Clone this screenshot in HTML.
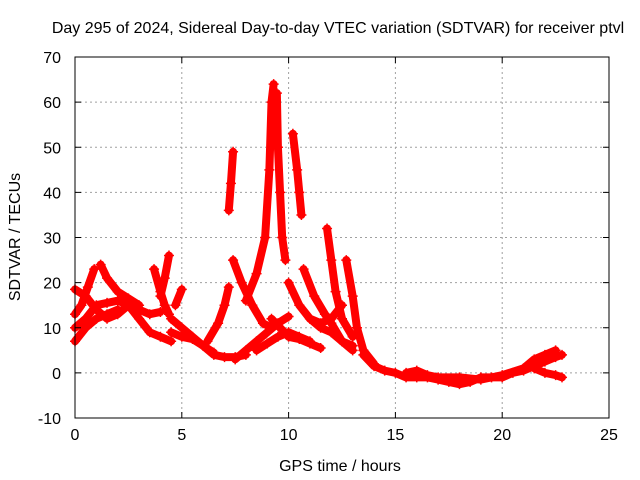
<!DOCTYPE html>
<html><head><meta charset="utf-8"><style>
body{margin:0;background:#fff;}
svg{display:block;font-family:"Liberation Sans",sans-serif;}
</style></head><body>
<svg id="chart" width="640" height="480">
<text x="338" y="33" text-anchor="middle" font-size="16">Day 295 of 2024, Sidereal Day-to-day VTEC variation (SDTVAR) for receiver ptvl</text>
<text transform="translate(20,237) rotate(-90)" text-anchor="middle" font-size="16">SDTVAR / TECUs</text>
<text x="340" y="471" text-anchor="middle" font-size="16">GPS time / hours</text>
<g id="grid"></g><g id="marks"></g><g id="axes"></g>
</svg>
<script>
const xTicks=[0,5,10,15,20,25];
const yTicks=[-10,0,10,20,30,40,50,60,70];
const arcA=[[0,18.5],[0.5,17],[1,14],[1.5,12],[2,13],[2.5,15],[3,14],[3.5,13],[4,13.5]];
const arcB=[[0,10],[0.5,12],[1,15],[1.5,15.5],[2,16],[2.5,15],[3,12],[3.5,9],[4,8],[4.5,7]];
const arcC=[[0,13],[0.3,15],[0.6,19],[0.9,23]];
const arcD=[[0,7],[0.5,10],[1,12],[1.5,13],[2,14]];
const arcE=[[1.2,24],[1.5,21],[2,18],[2.5,16.5],[3,15]];
const arcF=[[3.7,23],[4,18],[4.2,15],[4.4,13]];
const arcG=[[4,17],[4.2,21],[4.4,26]];
const arcH=[[4.7,15],[5,18.5]];
const arcI=[[4.5,12],[5,10],[5.5,8],[6,6],[6.5,4],[7,3.5],[7.5,3.5],[8,4]];
const arcJ=[[4.5,9],[5,8],[5.5,7.5],[6,6],[6.5,4.5]];
const arcK=[[6.2,7],[6.7,11],[7,15],[7.2,19]];
const arcL=[[7.4,25],[7.8,20],[8.3,15],[8.8,11],[9.2,10]];
const arcM=[[7.5,3],[8,5],[8.5,7],[9,9],[9.5,11],[10,12.5]];
const arcN=[[8,16],[8.5,22],[8.9,30],[9.1,45],[9.2,60],[9.3,64]];
const arcO=[[9.45,62],[9.5,50],[9.6,40],[9.7,30],[9.85,25]];
const arcP=[[9.2,12],[9.6,10],[10,8],[10.5,7.5],[11,6.5],[11.5,5.5]];
const arcQ=[[8.5,5],[9,6.5],[9.5,8],[10,9],[10.5,8],[11,7]];
const arcR=[[10.2,53],[10.4,45],[10.5,40],[10.6,35]];
const arcS=[[7.2,36],[7.3,42],[7.4,49]];
const arcT=[[10,20],[10.5,15],[11,12],[11.5,11],[12,12],[12.5,15]];
const arcU=[[10.7,23],[11.2,17],[11.7,13],[12,11],[12.5,7],[13,5]];
const arcV=[[11.8,32],[12,25],[12.2,18],[12.5,12],[13,8]];
const arcW=[[12.7,25],[13,17],[13.2,10],[13.5,5],[14,2]];
const arcX=[[11,12],[11.5,10],[12,9],[12.5,7],[13,6]];
const arcY=[[13.5,4],[14,1.5],[14.5,0.5],[15,0],[15.5,-1],[16,-1],[16.5,-1],[17,-1.5],[17.5,-2],[18,-2.5],[18.5,-2],[19,-1],[19.5,-1],[20,-1],[20.5,0],[21,0.5],[21.5,1.5],[22,2.5],[22.5,3.5],[22.8,4]];
const arcZ=[[15.5,0],[16,0.5],[16.5,-0.5],[17,-1],[18,-1],[19,-1.5],[20,-0.5],[21,1],[21.5,3],[22,4],[22.5,5]];
const arcZ2=[[21.5,1],[22,0],[22.5,-0.5],[22.8,-1]];
const arcs=[arcA,arcB,arcC,arcD,arcE,arcF,arcG,arcH,arcI,arcJ,arcK,arcL,arcM,arcN,arcO,arcP,arcQ,arcR,arcS,arcT,arcU,arcV,arcW,arcX,arcY,arcZ,arcZ2];
const X0=75,X1=609,Y0=418,Y1=57;
function sx(v){return X0+(v-0)/(25-0)*(X1-X0);}
function sy(v){return Y0-(v+10)/(80)*(Y0-Y1);}
const NS="http://www.w3.org/2000/svg";
function mk(t,a,p){const e=document.createElementNS(NS,t);for(const k in a)e.setAttribute(k,a[k]);p.appendChild(e);return e;}
const grid=document.getElementById('grid'),marks=document.getElementById('marks'),axes=document.getElementById('axes');
xTicks.forEach(v=>{
 if(v>0&&v<25){const g=mk('line',{x1:sx(v),x2:sx(v),y1:Y1,y2:Y0,stroke:'#a0a0a0','stroke-dasharray':'2,3'},grid);
 
 }
 const t=mk('text',{x:sx(v),y:Y0+22,'text-anchor':'middle','font-size':16},axes);t.textContent=v;
 
 
 mk('line',{x1:sx(v),x2:sx(v),y1:Y0,y2:Y0-6,stroke:'#000'},axes);
 mk('line',{x1:sx(v),x2:sx(v),y1:Y1,y2:Y1+6,stroke:'#000'},axes);
});
yTicks.forEach(v=>{
 if(v>-10&&v<70){const g=mk('line',{x1:X0,x2:X1,y1:sy(v),y2:sy(v),stroke:'#a0a0a0','stroke-dasharray':'2,3'},grid);
 
 }
 const t=mk('text',{x:X0-14,y:sy(v)+6,'text-anchor':'end','font-size':16},axes);t.textContent=v;
 
 
 mk('line',{x1:X0,x2:X0+6,y1:sy(v),y2:sy(v),stroke:'#000'},axes);
 mk('line',{x1:X1,x2:X1-6,y1:sy(v),y2:sy(v),stroke:'#000'},axes);
});
const b=mk('rect',{x:X0,y:Y1,width:X1-X0,height:Y0-Y1,fill:'none',stroke:'#000'},axes);


arcs.forEach(arc=>{
 const pl=mk('polyline',{points:arc.map(p=>sx(p[0])+','+sy(p[1])).join(' '),fill:'none',stroke:'#ff0000','stroke-width':8,'stroke-linejoin':'round','stroke-linecap':'round'},marks);
 
 
 arc.forEach(p=>{const x=sx(p[0]),y=sy(p[1]);
  const m=mk('path',{d:`M${x-5},${y}H${x+5}M${x},${y-5}V${y+5}`,stroke:'#ff0000','stroke-width':1.5},marks);
  
  
 });
});
</script>
</body></html>
